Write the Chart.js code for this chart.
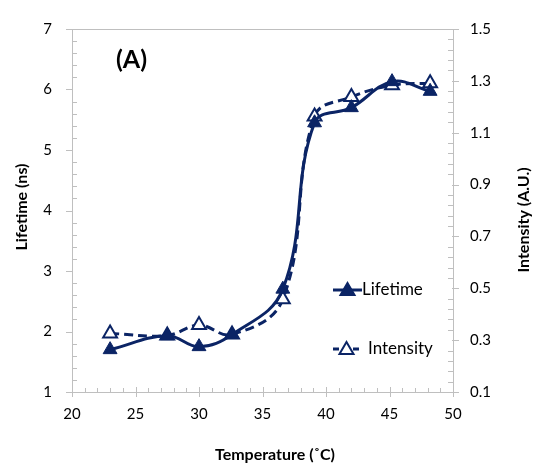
<!DOCTYPE html>
<html>
<head>
<meta charset="utf-8">
<script src="https://cdn.jsdelivr.net/npm/chart.js@4/dist/chart.umd.min.js"></script>
<style>
  body { margin: 0; background: #fff; }
  #wrap { width: 538px; height: 465px; position: relative; }
</style>
</head>
<body>
<div id="wrap"><canvas id="chart" width="538" height="465"></canvas></div>
<script>
// data
const temperature = [23.0, 27.5, 30.0, 32.6, 36.6, 39.1, 42.0, 45.2, 48.2];
const lifetime = [1.70, 1.93, 1.75, 1.95, 2.70, 5.45, 5.70, 6.13, 5.97];
const intensity = [0.326, 0.318, 0.358, 0.322, 0.458, 1.163, 1.238, 1.283, 1.291];

const xTicks = [20, 25, 30, 35, 40, 45, 50];
const lifetimeTicks = [1, 2, 3, 4, 5, 6, 7];
const intensityTicks = [0.1, 0.3, 0.5, 0.7, 0.9, 1.1, 1.3, 1.5];

const navy = '#0b2465';
const axisGray = '#bfbfbf';
const fontFam = 'Lato, "Open Sans", sans-serif';

const extras = {
    id: 'extras',
    afterDraw(chart) {
        const ctx = chart.ctx;
        const area = chart.chartArea;
        const x = chart.scales.x;
        const yl = chart.scales.y;
        const yr = chart.scales.y1;
        ctx.save();
        ctx.strokeStyle = axisGray;
        ctx.lineWidth = 1;
        ctx.beginPath();
        // top border
        ctx.moveTo(area.left - 6, area.top + 0.5);
        ctx.lineTo(area.right + 6, area.top + 0.5);
        // x ticks
        for (let v = 20; v <= 50; v++) {
            const px = Math.round(x.getPixelForValue(v)) + 0.5;
            if (v % 5 === 0) {
                ctx.moveTo(px, area.bottom - 5);
                ctx.lineTo(px, area.bottom + 5);
            } else {
                ctx.moveTo(px, area.bottom - 4);
                ctx.lineTo(px, area.bottom);
            }
        }
        // left ticks
        for (let i = 0; i <= 30; i++) {
            const v = 1 + i * 0.2;
            const py = Math.round(yl.getPixelForValue(v)) + 0.5;
            if (i % 5 === 0) {
                ctx.moveTo(area.left - 6, py);
                ctx.lineTo(area.left + 1, py);
            } else {
                ctx.moveTo(area.left, py);
                ctx.lineTo(area.left + 5, py);
            }
        }
        // right ticks
        for (let i = 0; i <= 35; i++) {
            const v = 0.1 + i * 0.04;
            const py = Math.round(yr.getPixelForValue(v)) + 0.5;
            if (i % 5 === 0) {
                ctx.moveTo(area.right - 1, py);
                ctx.lineTo(area.right + 6, py);
            } else {
                ctx.moveTo(area.right - 5, py);
                ctx.lineTo(area.right, py);
            }
        }
        ctx.stroke();

        // panel label
        ctx.fillStyle = '#000';
        ctx.font = 'bold 25px ' + fontFam;
        ctx.textAlign = 'left';
        ctx.textBaseline = 'middle';
        ctx.fillText('(A)', 116, 60);

        // axis titles
        ctx.font = 'bold 16px ' + fontFam;
        ctx.textAlign = 'center';
        ctx.fillText('Temperature (\u02DAC)', 275, 455);
        ctx.save();
        ctx.translate(22, 207);
        ctx.rotate(-Math.PI / 2);
        ctx.fillText('Lifetime (ns)', 0, 0);
        ctx.restore();
        ctx.save();
        ctx.translate(524, 220);
        ctx.rotate(-Math.PI / 2);
        ctx.fillText('Intensity (A.U.)', 0, 0);
        ctx.restore();

        // legend
        const items = [
            { label: 'Lifetime', y: 290, dash: [], fill: navy, x0: 333, x1: 362, tx: 362 },
            { label: 'Intensity', y: 349, dash: [6, 4], fill: '#fff', x0: 333, x1: 360, tx: 368 }
        ];
        ctx.font = '17px ' + fontFam;
        items.forEach(it => {
            ctx.strokeStyle = navy;
            ctx.lineWidth = 3;
            ctx.setLineDash(it.dash);
            ctx.beginPath();
            ctx.moveTo(it.x0, it.y);
            ctx.lineTo(it.x1, it.y);
            ctx.stroke();
            ctx.setLineDash([]);
            const cx = (it.x0 + it.x1) / 2;
            ctx.beginPath();
            ctx.moveTo(cx, it.y - 7);
            ctx.lineTo(cx + 7, it.y + 5);
            ctx.lineTo(cx - 7, it.y + 5);
            ctx.closePath();
            ctx.fillStyle = it.fill;
            ctx.fill();
            ctx.lineWidth = 2;
            ctx.stroke();
            ctx.fillStyle = '#000';
            ctx.textAlign = 'left';
            ctx.fillText(it.label, it.tx, it.y);
        });
        ctx.restore();
    }
};

new Chart(document.getElementById('chart').getContext('2d'), {
    type: 'line',
    data: {
        datasets: [{
            label: 'Lifetime',
            data: temperature.map((t, i) => ({ x: t, y: lifetime[i] })),
            yAxisID: 'y',
            borderColor: navy,
            backgroundColor: navy,
            borderWidth: 3,
            pointStyle: 'triangle',
            pointRadius: 8,
            pointBorderWidth: 1,
            tension: 0.4,
            order: 0
        }, {
            label: 'Intensity',
            data: temperature.map((t, i) => ({ x: t, y: intensity[i] })),
            yAxisID: 'y1',
            borderColor: navy,
            backgroundColor: '#fff',
            borderWidth: 3,
            borderDash: [9, 5],
            pointStyle: 'triangle',
            pointRadius: 8,
            pointBorderWidth: 2,
            tension: 0.4,
            order: 1
        }]
    },
    options: {
        responsive: false,
        animation: false,
        devicePixelRatio: 1,
        layout: { padding: { top: 21, left: 0, right: 0, bottom: 0 } },
        plugins: { legend: { display: false }, tooltip: { enabled: false } },
        scales: {
            x: {
                type: 'linear',
                min: 20, max: 50,
                afterBuildTicks: s => { s.ticks = xTicks.map(v => ({ value: v })); },
                afterFit: s => { s.height = 73; },
                grid: { display: false, drawTicks: false },
                border: { display: true, color: axisGray },
                ticks: { padding: 13, color: '#000', font: { size: 15, family: fontFam } }
            },
            y: {
                position: 'left',
                min: 1, max: 7,
                afterBuildTicks: s => { s.ticks = lifetimeTicks.map(v => ({ value: v })); },
                afterFit: s => { s.width = 72; },
                grid: { display: false, drawTicks: false },
                border: { display: true, color: axisGray },
                ticks: { padding: 20, color: '#000', font: { size: 15, family: fontFam } }
            },
            y1: {
                position: 'right',
                min: 0.1, max: 1.5,
                afterBuildTicks: s => { s.ticks = intensityTicks.map(v => ({ value: v })); },
                afterFit: s => { s.width = 85; },
                grid: { display: false, drawTicks: false },
                border: { display: true, color: axisGray },
                ticks: {
                    padding: 17, color: '#000', font: { size: 15, family: fontFam },
                    callback: v => v.toFixed(1)
                }
            }
        }
    },
    plugins: [extras]
});
</script>
</body>
</html>
